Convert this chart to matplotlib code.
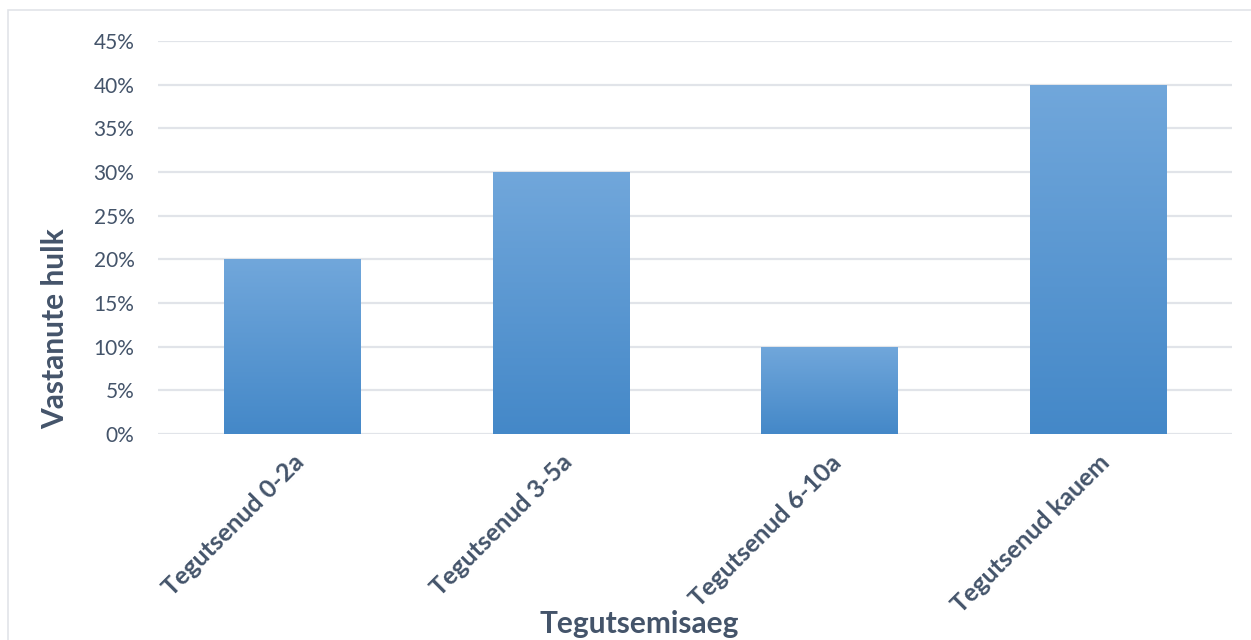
import matplotlib.pyplot as plt
import numpy as np
from matplotlib.patches import Rectangle
from matplotlib.ticker import PercentFormatter

categories = ["Tegutsenud 0-2a", "Tegutsenud 3-5a", "Tegutsenud 6-10a", "Tegutsenud kauem"]
shares = [0.20, 0.30, 0.10, 0.40]
y_ticks = [0.0, 0.05, 0.10, 0.15, 0.20, 0.25, 0.30, 0.35, 0.40, 0.45]

TEXT = "#44546A"
GRID = "#E1E4E9"
TOP_COLOR = np.array([0x71, 0xA7, 0xDB]) / 255
BOTTOM_COLOR = np.array([0x44, 0x88, 0xC8]) / 255

plt.rcParams["font.family"] = ["Lato", "DejaVu Sans"]

fig = plt.figure(figsize=(12.51, 6.40), dpi=100)

# thin outer frame of the chart area (cut at right/bottom)
fig.patches.append(Rectangle((8 / 1251, -0.1), 1.2, 1 - 10 / 640 + 0.1,
                             transform=fig.transFigure, fill=False,
                             edgecolor=GRID, linewidth=1.2))

ax = fig.add_axes([158 / 1251, 1 - 434 / 640, (1232 - 158) / 1251, (434 - 41) / 640])

x = np.arange(len(categories))
bars = ax.bar(x, shares, width=0.507, color=BOTTOM_COLOR, zorder=2)

# vertical gradient fill, lighter at the top
grad = np.linspace(0, 1, 256).reshape(-1, 1)
cols = BOTTOM_COLOR[None, None, :] * grad[:, :, None] + TOP_COLOR[None, None, :] * (1 - grad[:, :, None])
for bar in bars:
    x0, w, h = bar.get_x(), bar.get_width(), bar.get_height()
    img = ax.imshow(cols, extent=[x0, x0 + w, 0, h], aspect="auto", zorder=3,
                    origin="upper", interpolation="bilinear")
    img.set_clip_path(bar)

ax.set_xlim(-0.5, len(categories) - 0.5)
ax.set_ylim(0, 0.45)
ax.set_yticks(y_ticks)
ax.yaxis.set_major_formatter(PercentFormatter(1.0, decimals=0))
ax.grid(axis="y", color=GRID, linewidth=1.6, zorder=0)
ax.set_axisbelow(True)
for s in ax.spines.values():
    s.set_visible(False)
ax.tick_params(axis="both", length=0, colors=TEXT, labelsize=15)
ax.tick_params(axis="y", pad=17)

ax.set_xticks(x)
ax.set_xticklabels(categories, rotation=45, ha="right", rotation_mode="anchor",
                   fontweight="bold", fontsize=18)
ax.tick_params(axis="x", pad=12)

fig.text(55 / 1251, 1 - 329 / 640, "Vastanute hulk", fontsize=21.5, fontweight="bold",
         color=TEXT, ha="center", va="center", rotation=90)
# kept just inside the bottom edge
fig.text(639 / 1251, 2 / 640, "Tegutsemisaeg", fontsize=21.5, fontweight="bold",
         color=TEXT, ha="center", va="bottom")

fig.savefig("out.png", dpi=100, facecolor="white")
